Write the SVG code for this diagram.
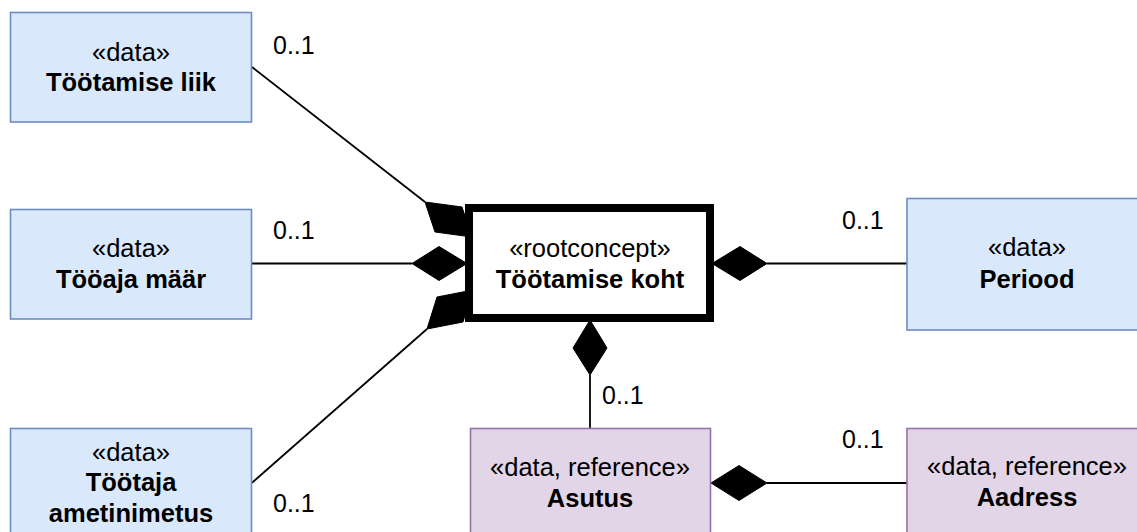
<svg xmlns="http://www.w3.org/2000/svg" width="1137" height="532" viewBox="0 0 1137 532">
  <style>
    text { font-family: "Liberation Sans", Arial, sans-serif; font-size: 25.5px; fill: #000; }
    .name { font-weight: bold; }
    .mid { text-anchor: middle; }
    .data { fill: #dae8fc; stroke: #6c8ebf; stroke-width: 1.6; }
    .ref { fill: #e1d5e7; stroke: #9673a6; stroke-width: 1.6; }
    .root { fill: #ffffff; stroke: #000; stroke-width: 8; }
    .edge { stroke: #000; stroke-width: 1.8; fill: none; }
    .dia { fill: #000; stroke: #000; stroke-width: 1; stroke-linejoin: miter; }
    .mult { font-size: 25px; }
  </style>
  <rect width="1137" height="532" fill="#ffffff"/>

  <!-- composition links (drawn under the boxes) -->
  <g id="connectors">
    <line class="edge" x1="252" y1="67" x2="425" y2="202"/>
    <polygon class="dia" points="425,202 462,207 472,237 435,232"/>

    <line class="edge" x1="252" y1="263.5" x2="412" y2="263.5"/>
    <polygon class="dia" points="412,263.5 439,246.5 467,263.5 439,280.5"/>

    <line class="edge" x1="252" y1="482.7" x2="427" y2="329"/>
    <polygon class="dia" points="427,329 437,297 473,290 463,322"/>

    <line class="edge" x1="767" y1="263.5" x2="907" y2="263.5"/>
    <polygon class="dia" points="712,263.5 740,246.5 767,263.5 740,280.5"/>

    <line class="edge" x1="590" y1="375" x2="590" y2="428"/>
    <polygon class="dia" points="590,320 607,348 590,375 573,348"/>

    <line class="edge" x1="767" y1="483" x2="907" y2="483"/>
    <polygon class="dia" points="711,483 739,465.5 767,483 739,500.5"/>

    <text class="mult" x="273" y="54">0..1</text>
    <text class="mult" x="273" y="239">0..1</text>
    <text class="mult" x="273" y="512">0..1</text>
    <text class="mult" x="842" y="229">0..1</text>
    <text class="mult" x="602" y="404">0..1</text>
    <text class="mult" x="842" y="448">0..1</text>
  </g>

  <g id="tootamise-liik">
    <rect class="data" x="10.5" y="12.5" width="241" height="109.5"/>
    <text class="mid" x="131" y="61">«data»</text>
    <text class="mid name" x="131" y="91">Töötamise liik</text>
  </g>

  <g id="tooaja-maar">
    <rect class="data" x="10.5" y="209.5" width="241" height="109.5"/>
    <text class="mid" x="131" y="257">«data»</text>
    <text class="mid name" x="131" y="288">Tööaja määr</text>
  </g>

  <g id="tootaja-ametinimetus">
    <rect class="data" x="10.5" y="428.5" width="241" height="110"/>
    <text class="mid" x="131" y="460.5">«data»</text>
    <text class="mid name" x="131" y="491">Töötaja</text>
    <text class="mid name" x="131" y="521.5">ametinimetus</text>
  </g>

  <g id="tootamise-koht">
    <rect class="root" x="469" y="208" width="241" height="110"/>
    <text class="mid" x="590" y="257">«rootconcept»</text>
    <text class="mid name" x="590" y="288">Töötamise koht</text>
  </g>

  <g id="periood">
    <rect class="data" x="907" y="198.5" width="240" height="131.5"/>
    <text class="mid" x="1027" y="256">«data»</text>
    <text class="mid name" x="1027" y="288">Periood</text>
  </g>

  <g id="asutus">
    <rect class="ref" x="470.5" y="428.5" width="240" height="110"/>
    <text class="mid" x="590" y="476">«data, reference»</text>
    <text class="mid name" x="590" y="507">Asutus</text>
  </g>

  <g id="aadress">
    <rect class="ref" x="907" y="428.5" width="240" height="110"/>
    <text class="mid" x="1027" y="475">«data, reference»</text>
    <text class="mid name" x="1027" y="506">Aadress</text>
  </g>
</svg>
